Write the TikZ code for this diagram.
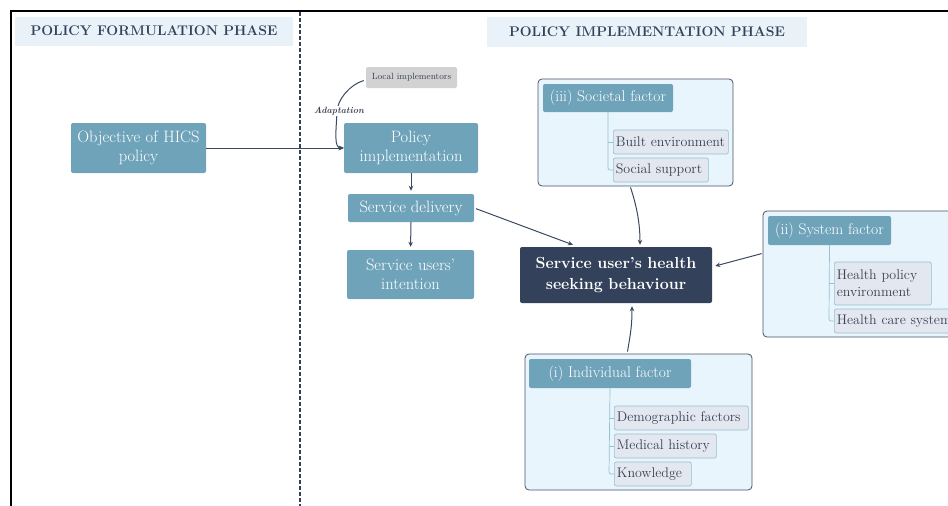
\documentclass[tikz,border=0pt]{standalone}
\usepackage{fontspec}
\usetikzlibrary{arrows.meta,calc}
\definecolor{steel}{HTML}{6FA3BA}
\definecolor{navy}{HTML}{33425A}
\definecolor{phasefill}{HTML}{EAF2F9}
\definecolor{contfill}{HTML}{E8F5FC}
\definecolor{contdraw}{HTML}{4A5366}
\definecolor{itemfill}{HTML}{E3E8F0}
\definecolor{itemdraw}{HTML}{96C0D3}
\definecolor{itemtext}{HTML}{3A4152}
\definecolor{localfill}{HTML}{D2D2D2}
\definecolor{arrowc}{HTML}{3A4862}
\begin{document}
\begin{tikzpicture}[x=1pt,y=-1pt,
  phase/.style={fill=phasefill, text=navy, inner sep=0pt, font=\fontsize{14}{16}\bfseries\selectfont},
  bluebox/.style={fill=steel, rounded corners=2pt, text=white, align=center, inner sep=0pt, font=\fontsize{16.5}{19}\selectfont},
  headbox/.style={fill=steel, rounded corners=2pt, text=white, inner sep=0pt, font=\fontsize{15.5}{18}\selectfont},
  navybox/.style={fill=navy, rounded corners=2pt, text=white, align=center, inner sep=0pt, font=\fontsize{16}{21}\bfseries\selectfont},
  container/.style={fill=contfill, draw=contdraw, line width=0.8pt, rounded corners=4pt, inner sep=0pt},
  itembox/.style={fill=itemfill, draw=itemdraw, line width=0.7pt, rounded corners=2pt, text=itemtext, anchor=west, inner xsep=2.5pt, inner ysep=0pt, align=left, font=\fontsize{14}{16}\selectfont},
  tree/.style={draw=itemdraw, line width=0.7pt, rounded corners=2pt},
  arr/.style={draw=arrowc, line width=1pt, -{Stealth[length=5pt,width=4.5pt]}},
  localbox/.style={fill=localfill, rounded corners=2pt, text=itemtext, inner sep=0pt, font=\fontsize{9}{11}\selectfont},
]
\useasboundingbox (0,0) rectangle (948,506);
\clip (0,0) rectangle (948,506);
\draw[line width=1.3pt, black] (11,530) -- (11,11) -- (970,11);
\draw[dashed, navy, line width=1.3pt, dash pattern=on 4pt off 2pt] (300,12) -- (300,506);

% phase headers
\node[phase, minimum width=278, minimum height=29] (pf) at (154,31) {POLICY FORMULATION PHASE};
\node[phase, minimum width=320, minimum height=30] (pi) at (647,32) {POLICY IMPLEMENTATION PHASE};

% left chain
\node[bluebox, minimum width=135, minimum height=50, text width=132] (obj) at (138.5,148) {Objective of HICS\\policy};
\node[bluebox, minimum width=134, minimum height=50, text width=130] (polimp) at (411,148) {Policy\\implementation};
\node[bluebox, minimum width=126, minimum height=28] (sdel) at (411,208) {Service delivery};
\node[bluebox, minimum width=127, minimum height=49, text width=122] (sint) at (410.5,274.5) {Service users'\\intention};
\node[localbox, minimum width=91, minimum height=21] (local) at (411.5,77.5) {Local implementors};

% central
\node[navybox, minimum width=192, minimum height=56, text width=188] (beh) at (616,275) {Service user's health\\seeking behaviour};

% societal
\node[container, minimum width=195, minimum height=107] (soc) at (635.5,132.5) {};
\node[headbox, minimum width=130, minimum height=28] (soch) at (608,98) {(iii) Societal factor};
\node[itembox, minimum height=24, text width=110] (soc1) at (613,142) {Built environment};
\node[itembox, minimum height=24, text width=90] (soc2) at (613,170) {Social support};
\draw[tree] (soch.south) -- (608,170) -- (soc2.west);
\draw[tree] (608,142) -- (soc1.west);

% system
\node[container, minimum width=200, minimum height=126] (sys) at (863,274) {};
\node[headbox, minimum width=123, minimum height=29] (sysh) at (829.5,230.5) {(ii) System factor};
\node[itembox, minimum height=43, text width=92, font=\fontsize{14}{17}\selectfont] (sys1) at (834,283.5) {Health policy\\environment};
\node[itembox, minimum height=24, text width=125] (sys2) at (834,321) {Health care system};
\draw[tree] (sysh.south) -- (829,321) -- (sys2.west);
\draw[tree] (829,283.5) -- (sys1.west);

% individual
\node[container, minimum width=227, minimum height=136] (ind) at (638.5,422) {};
\node[headbox, minimum width=162, minimum height=29] (indh) at (610,373.5) {(i) Individual factor};
\node[itembox, minimum height=24, text width=129] (ind1) at (614,418) {Demographic factors};
\node[itembox, minimum height=24, text width=97] (ind2) at (614,446) {Medical history};
\node[itembox, minimum height=24, text width=72] (ind3) at (614,474) {Knowledge};
\draw[tree] (indh.south) -- (609,474) -- (ind3.west);
\draw[tree] (609,418) -- (ind1.west);
\draw[tree] (609,446) -- (ind2.west);

% connectors
\draw[arr] (obj.east) -- (polimp.west);
\draw[arr, shorten >=3pt] (polimp.south) -- (sdel.north);
\draw[arr, shorten >=3pt] (sdel.south) -- (sint.north);
\draw[arr, shorten <=2pt] (sdel.east) -- ($(beh.north west)!0.276!(beh.north east)+(0,-2)$);
\draw[arr] ($(soc.south)+(-5,1)$) .. controls +(6,18) and +(0,-22) .. ($(beh.north)+(24,-2)$);
\draw[arr] ($(sys.north west)+(-1,43)$) -- ($(beh.east)+(3,-9)$);
\draw[arr] ($(ind.north)+(-11,-2)$) .. controls +(3,-18) and +(0,20) .. ($(beh.south)+(16,3)$);
\draw[arr] ($(local.west)+(-2,3)$) .. controls +(-14,4) and +(0,-12) .. (337,112)
   .. controls +(-1,20) and +(-10,0) .. (polimp.west);
\node[fill=white, inner sep=1pt, text=itemtext, font=\fontsize{9}{11}\bfseries\itshape\selectfont] (adapt) at (339,111) {Adaptation};
\end{tikzpicture}
\end{document}
